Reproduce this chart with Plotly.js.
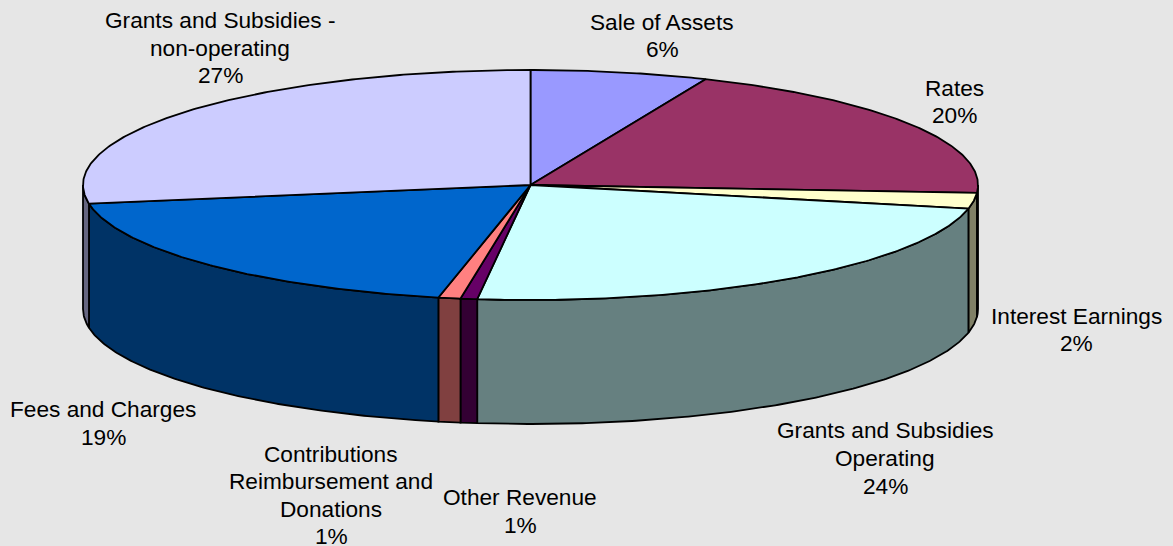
<!DOCTYPE html>
<html><head><meta charset="utf-8">
<script src="https://cdn.plot.ly/plotly-3.0.1.min.js"></script>
<style>html,body{margin:0;padding:0;background:#E6E6E6;overflow:hidden}</style>
</head><body><div id="chart" style="width:1173px;height:546px"></div>
<script>
const categories = ["Sale of Assets","Rates","Interest Earnings","Grants and Subsidies Operating","Other Revenue","Contributions Reimbursement and Donations","Fees and Charges","Grants and Subsidies - non-operating"];
const values = [6.4,19.7,2.2,23.6,0.6,0.8,19.1,27.6];
const percentLabels = ["6%","20%","2%","24%","1%","1%","19%","27%"];
const labelLines = [["Sale of Assets"],["Rates"],["Interest Earnings"],["Grants and Subsidies","Operating"],["Other Revenue"],["Contributions","Reimbursement and","Donations"],["Fees and Charges"],["Grants and Subsidies -","non-operating"]];
const topColors = ["#9999FF","#993366","#FFFFCC","#CCFFFF","#660066","#FF8080","#0066CC","#CCCCFF"];
const sideColors = ["#666699","#4D1A33","#808066","#668080","#330033","#804040","#003366","#666680"];
const labelX = [662,954,1076,885,520,331,103,220];
const labelY = [22,88,316,430,497,454,409,20];
const labelStep = [27,27,27,28,28,27.3,28,27.5];

const cx=530.5, cy=185, rx=447.5, ry=115, depth=124;
const total = values.reduce((a,b)=>a+b,0);
const px = t => cx + rx*Math.sin(t*Math.PI/180);
const py = t => cy - ry*Math.cos(t*Math.PI/180);
function arc(a,b){const n=Math.max(2,Math.ceil(Math.abs(b-a)/0.5));const o=[];for(let i=0;i<=n;i++)o.push(a+(b-a)*i/n);return o;}
const outline={color:"#000",width:1.8};
const traces=[];
let acc=0;const spans=values.map(v=>{const s=[acc,acc+v/total*360];acc=s[1];return s;});
spans.forEach((s,i)=>{
  const a=Math.max(s[0],90), b=Math.min(s[1],270);
  if(b<=a) return;
  const ts=arc(a,b), rev=ts.slice().reverse();
  traces.push({type:"scatter",mode:"lines",fill:"toself",fillcolor:sideColors[i],line:outline,hoverinfo:"skip",
    x:ts.map(px).concat(rev.map(px)).concat([px(a)]),
    y:ts.map(py).concat(rev.map(t=>py(t)+depth)).concat([py(a)])});
});
spans.forEach((s,i)=>{
  const ts=arc(s[0],s[1]);
  traces.push({type:"scatter",mode:"lines",fill:"toself",fillcolor:topColors[i],line:outline,hoverinfo:"skip",name:categories[i],
    x:[cx].concat(ts.map(px)).concat([cx]),
    y:[cy].concat(ts.map(py)).concat([cy])});
});
const annotations=[];
labelLines.forEach((lines,i)=>{
  lines.concat([percentLabels[i]]).forEach((t,k)=>{
    annotations.push({x:labelX[i],y:labelY[i]+k*labelStep[i],text:t,showarrow:false,xanchor:"center",yanchor:"middle",
      font:{family:"Liberation Sans, Arial, sans-serif",size:22.67,color:"#000"}});
  });
});
Plotly.newPlot("chart",traces,{
  width:1173,height:546,margin:{l:0,r:0,t:0,b:0},showlegend:false,
  paper_bgcolor:"#E6E6E6",plot_bgcolor:"#E6E6E6",
  xaxis:{range:[0,1173],visible:false,fixedrange:true},
  yaxis:{range:[546,0],visible:false,fixedrange:true},
  annotations
},{displayModeBar:false,staticPlot:true});
</script></body></html>
